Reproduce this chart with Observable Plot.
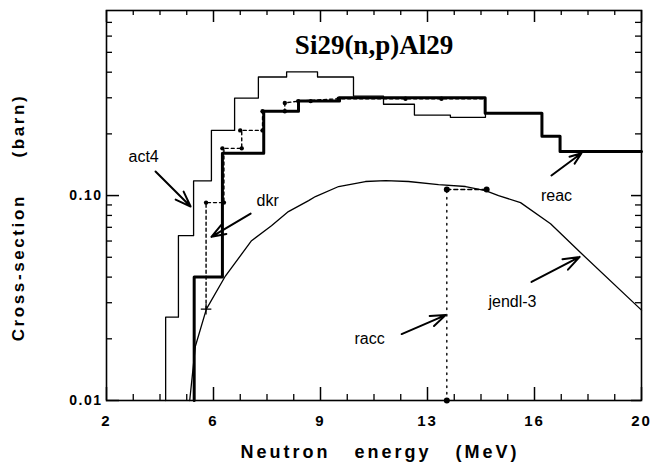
<!DOCTYPE html>
<html><head><meta charset="utf-8">
<script src="https://cdn.jsdelivr.net/npm/d3@7"></script>
<script src="https://cdn.jsdelivr.net/npm/@observablehq/plot@0.6"></script>
<style>
body{margin:0;background:#fff;}
</style></head><body><div id="chart"></div>
<script>
// ---- data ----
const act4Edges  = [3.99, 4.42, 4.93, 5.53, 6.31, 7.11, 8.06, 9.10, 10.31, 11.32, 12.36, 13.57, 14.75, 16.65, 17.26, 20];
const act4Values = [0.0255, 0.0637, 0.118, 0.208, 0.299, 0.379, 0.401, 0.379, 0.306, 0.279, 0.247, 0.241, 0.252, 0.195, 0.164];

const reacEdges  = [4.95, 5.90, 7.29, 8.46, 9.84, 14.74, 16.65, 17.26, 20];
const reacValues = [0.0401, 0.161, 0.258, 0.289, 0.300, 0.252, 0.195, 0.164];

const jendlE = [4.80, 4.99, 5.36, 6.00, 6.88, 7.55, 8.12, 8.80, 9.03, 9.81, 10.71, 11.39, 12.16, 13.17, 14.08, 14.75, 15.19, 15.93, 16.94, 17.99, 20.0];
const jendlV = [0.0100, 0.0184, 0.0279, 0.0405, 0.0602, 0.0713, 0.0835, 0.0945, 0.0989, 0.1107, 0.1171, 0.1184, 0.1171, 0.1132, 0.1107, 0.1058, 0.1000, 0.0924, 0.0729, 0.0520, 0.0276];

const dkrPathE = [5.35, 5.35, 5.95, 5.95, 6.55, 6.55, 7.25, 7.25, 8.00, 8.00, 8.45, 9.85, 14.70];
const dkrPathV = [0.0279, 0.0924, 0.0924, 0.170, 0.170, 0.208, 0.208, 0.258, 0.258, 0.283, 0.289, 0.297, 0.297];
const dkrDotE = [5.35, 5.95, 5.90, 6.55, 6.50, 7.25, 7.25, 8.00, 8.00, 8.45, 8.87, 9.81, 12.06, 13.27];
const dkrDotV = [0.0924, 0.0924, 0.170, 0.170, 0.208, 0.208, 0.258, 0.258, 0.283, 0.289, 0.289, 0.297, 0.297, 0.297];
const dkrCrossE = [5.35];
const dkrCrossV = [0.0279];

const raccE = [13.45, 13.45, 14.79];
const raccV = [0.0100, 0.107, 0.107];

const annLabels = ["act4", "dkr", "reac", "jendl-3", "racc"];
const annTextE  = [3.25, 7.42, 17.14, 15.66, 10.85];
const annTextV  = [0.1536, 0.0945, 0.100, 0.0302, 0.0199];
const arrowE1 = [3.65, 6.85, 16.97, 16.30, 11.93];
const arrowV1 = [0.131, 0.0816, 0.1253, 0.0379, 0.0211];
const arrowE2 = [4.83, 5.53, 17.98, 17.92, 13.41];
const arrowV2 = [0.0884, 0.0629, 0.161, 0.0502, 0.0261];

const xMajor = [2, 5.6, 9.2, 12.8, 16.4, 20];
const xTickLabels = ["2", "6", "9", "13", "16", "20"];
const xMinor = [2.9, 3.8, 4.7, 6.5, 7.4, 8.3, 10.1, 11, 11.9, 13.7, 14.6, 15.5, 17.3, 18.2, 19.1];
const yMajor = [0.01, 0.1];
const yTickLabels = ["0.01", "0.10"];
const yMinor = [0.02, 0.03, 0.04, 0.05, 0.06, 0.07, 0.08, 0.09, 0.2, 0.3, 0.4, 0.5, 0.6, 0.7];

const title = "Si29(n,p)Al29";
const xTitle = "Neutron   energy   (MeV)";
const yTitle = "Cross-section     (barn)";

// ---- build tables ----
function stepPoints(edges, values) {
  const pts = [{x: edges[0], y: 0.01}];
  values.forEach((v, i) => pts.push({x: edges[i], y: v}));
  pts.push({x: edges[edges.length - 1], y: values[values.length - 1]});
  return pts;
}
const zip = (a, b) => a.map((x, i) => ({x, y: b[i]}));
const act4 = stepPoints(act4Edges, act4Values);
const reac = stepPoints(reacEdges, reacValues);
const jendl = zip(jendlE, jendlV);
const dkrPath = zip(dkrPathE, dkrPathV);
const dkrDots = zip(dkrDotE, dkrDotV);
const dkrCross = zip(dkrCrossE, dkrCrossV);
const raccVert = zip(raccE.slice(0, 2), raccV.slice(0, 2));
const raccHor = zip(raccE.slice(1), raccV.slice(1));
const raccDots = zip(raccE, raccV);
const ann = annLabels.map((t, i) => ({t, x: annTextE[i], y: annTextV[i], x1: arrowE1[i], y1: arrowV1[i], x2: arrowE2[i], y2: arrowV2[i]}));

const W = 654, H = 473, mL = 106, mR = 13, mT = 10, mB = 73;
const iw = W - mL - mR, ih = H - mT - mB;
const font = "Liberation Sans, Arial, Helvetica, sans-serif";
const nb = s => s.replace(/ /g, "\u00A0");

const chart = Plot.plot({
  width: W, height: H,
  marginLeft: mL, marginRight: mR, marginTop: mT, marginBottom: mB,
  style: {fontFamily: font, background: "white", color: "black"},
  x: {domain: [2, 20]},
  y: {type: "log", domain: [0.01, 0.8]},
  marks: [
    Plot.axisX({ticks: xMajor, tickFormat: d => xTickLabels[xMajor.indexOf(d)], tickSize: 0, tickPadding: 15, fontSize: 15, fontWeight: "bold", label: null}),
    Plot.axisY({ticks: yMajor, tickFormat: d => yTickLabels[yMajor.indexOf(d)], tickSize: 0, tickPadding: 4, fontSize: 14, fontWeight: "bold", label: null}),
    // inward ticks
    Plot.ruleX(xMinor, {insetTop: ih - 6, strokeWidth: 1.3}),
    Plot.ruleX(xMajor, {insetTop: ih - 13, strokeWidth: 1.5}),
    Plot.ruleX(xMinor, {insetBottom: ih - 5, strokeWidth: 1.3}),
    Plot.ruleX(xMajor, {insetBottom: ih - 12, strokeWidth: 1.5}),
    Plot.ruleY(yMinor, {insetRight: iw - 6, strokeWidth: 1.3}),
    Plot.ruleY(yMajor, {insetRight: iw - 13, strokeWidth: 1.5}),
    Plot.ruleY(yMinor, {insetLeft: iw - 6, strokeWidth: 1.3}),
    Plot.ruleY(yMajor, {insetLeft: iw - 10, strokeWidth: 1.5}),
    Plot.frame({strokeWidth: 1.6}),
    // curves
    Plot.line(jendl, {x: "x", y: "y", strokeWidth: 1.3}),
    Plot.line(act4, {x: "x", y: "y", curve: "step-after", strokeWidth: 1.3}),
    Plot.line(dkrPath, {x: "x", y: "y", strokeWidth: 1.4, strokeDasharray: "3,3"}),
    Plot.line(reac, {x: "x", y: "y", curve: "step-after", strokeWidth: 3}),
    Plot.dot(dkrDots, {x: "x", y: "y", r: 2.2, fill: "black"}),
    Plot.dot(dkrCross, {x: "x", y: "y", r: 3.5, symbol: "plus", stroke: "black", strokeWidth: 1.2}),
    Plot.line(raccVert, {x: "x", y: "y", strokeWidth: 1.4, strokeDasharray: "1.5,5"}),
    Plot.line(raccHor, {x: "x", y: "y", strokeWidth: 1.4, strokeDasharray: "4,3"}),
    Plot.dot(raccDots, {x: "x", y: "y", r: 3, fill: "black"}),
    // annotations
    Plot.arrow(ann, {x1: "x1", y1: "y1", x2: "x2", y2: "y2", strokeWidth: 2, headLength: 13, headAngle: 40}),
    Plot.text(ann, {x: "x", y: "y", text: "t", fontSize: 16, fill: "black"}),
    // titles
    Plot.text([title], {frameAnchor: "top", dy: 43, lineAnchor: "bottom", fontSize: 27, fontWeight: "bold", fontFamily: "Liberation Serif, Times New Roman, serif", fill: "black"}),
    Plot.text([nb(xTitle)], {frameAnchor: "bottom", textAnchor: "middle", lineAnchor: "middle", dx: 6, dy: 52, fontSize: 18, fontWeight: "bold", fill: "black"}),
    Plot.text([nb(yTitle)], {frameAnchor: "left", textAnchor: "middle", lineAnchor: "middle", dx: -88, dy: 12, rotate: -90, fontSize: 17, fontWeight: "bold", fill: "black"})
  ]
});
// letter spacing as in the scanned original
const svg = d3.select(chart);
svg.selectAll("text").each(function () {
  const t = this.textContent;
  const s = d3.select(this);
  if (t === nb(xTitle)) s.style("letter-spacing", "3px");
  else if (t === nb(yTitle)) s.style("letter-spacing", "2.6px");
  else if (xTickLabels.includes(t)) s.style("letter-spacing", "2px");
  else if (yTickLabels.includes(t)) s.style("letter-spacing", "1.5px");
});
document.getElementById("chart").appendChild(chart);
</script></body></html>
